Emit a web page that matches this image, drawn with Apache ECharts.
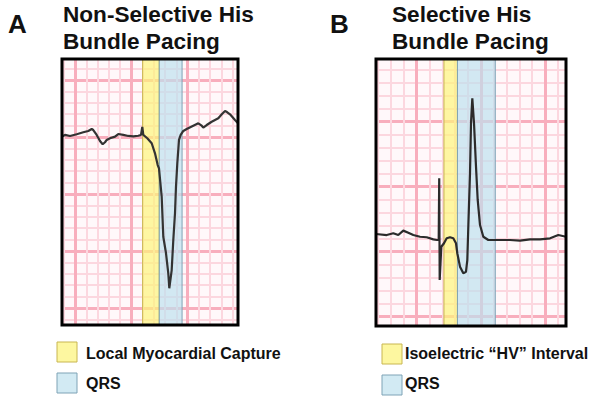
<!DOCTYPE html>
<html><head><meta charset="utf-8">
<script src="https://cdn.jsdelivr.net/npm/echarts@6/dist/echarts.min.js"></script>
<style>html,body{margin:0;padding:0;background:#fff}#c{width:602px;height:407px}</style>
</head><body><div id="c"></div>
<script>
// Panel A: Non-selective His bundle pacing (time in ms, amplitude in mm; 1 small box = 40 ms / 1 mm)
const timeA = [154,164.5,182.3,206,229.5,247.2,259.3,264.9,277,288.7,298.3,306.5,312.5,324.2,342,353.7,371.4,389.2,406.9,424.7,434.2,438.8,442.4,456.6,472.2,483.9,493.5,498.1,507.7,513.4,523,531.1,534.7,543.2,548.9,554.9,558.4,563.1,569.1,575.1,584.4,596.4,619.8,637.6,649.7,655.3,667.4,685.1,708.6,721.7,732.4,739.4,750.1,767.8,778.5];
const ampA = [0.04,0.18,0.09,0.24,0.41,0.53,0.70,0.61,0.18,-0.35,-0.64,-0.46,-0.26,-0.11,0.03,0.26,0.18,0.09,0.06,0.11,0.18,0.88,0.18,-0.11,-0.55,-1.43,-2.46,-2.75,-5.24,-8.75,-10.2,-11.96,-13.27,-11.67,-9.04,-6.69,-4.36,-2.31,-0.26,0.18,0.53,0.70,0.99,1.20,0.99,0.82,1.05,1.34,1.64,2.02,2.28,2.19,1.99,1.49,1.20];
const bandA_capture = [440, 499];
const bandA_qrs = [499, 580];
const rangeA_x = [153.9, 778.5];
const rangeA_y = [-16.49, 6.84];

// Panel B: Selective His bundle pacing
const timeB = [73.1,106.5,127,142.6,158.2,173.8,189.4,210.3,231.2,251.8,263.3,268.6,270.2,271.7,276.7,285.1,293.5,303.8,314.1,322.5,326.6,335,345.3,353.7,357.8,360.9,366.2,369.3,373.4,378.7,384.9,390.2,397.4,407.7,423.3,444.1,470,490.9,522.1,553.3,584.5,615.9,641.5,665.5];
const ampB = [1.36,1.28,1.42,1.28,1.62,1.46,1.28,1.15,1.11,0.95,0.90,0.90,5.65,-2.18,0.38,0.65,1.03,1.11,1.03,0.65,-0.12,-1.15,-1.66,-1.54,-0.64,1.92,6.03,9.88,11.8,9.88,6.54,3.98,2.05,1.15,0.90,0.90,0.90,0.90,0.85,0.95,0.95,1.03,1.28,1.15];
const bandB_hv = [285, 327];
const bandB_qrs = [327, 445];
const rangeB_x = [73.1, 665.5];
const rangeB_y = [-5.715, 14.82];

const titlesA = ['Non-Selective His', 'Bundle Pacing'];
const titlesB = ['Selective His', 'Bundle Pacing'];
const legendA = ['Local Myocardial Capture', 'QRS'];
const legendB = ['Isoelectric \u201cHV\u201d Interval', 'QRS'];

const MAJOR = '#f8aebd', MINOR = '#fcd7df';
const YELLOW = 'rgba(253,244,120,0.68)', YELLOW_B = '#c8b650';
const BLUE = 'rgba(188,224,238,0.68)', BLUE_B = '#7fa3b6';

function axisDef(gridIndex, range, major) {
  return {
    type: 'value', gridIndex, min: range[0], max: range[1],
    minInterval: major, maxInterval: major, splitNumber: 3,
    axisLine: {show: false}, axisTick: {show: false}, axisLabel: {show: false},
    splitLine: {show: true, showMinLine: false, showMaxLine: false, lineStyle: {color: MAJOR, width: 3}},
    minorTick: {show: false, splitNumber: 5},
    minorSplitLine: {show: true, lineStyle: {color: MINOR, width: 2}}
  };
}
function zip(t, a) { return t.map((v, i) => [v, a[i]]); }
function bandSeries(idx, b1, b2) {
  return {
    type: 'line', xAxisIndex: idx, yAxisIndex: idx, data: [], z: 5, silent: true,
    markArea: {silent: true, data: [
      [{xAxis: b1[0], itemStyle: {color: YELLOW, borderColor: YELLOW_B, borderWidth: 1}}, {xAxis: b1[1]}],
      [{xAxis: b2[0], itemStyle: {color: BLUE, borderColor: BLUE_B, borderWidth: 1}}, {xAxis: b2[1]}]
    ]}
  };
}
const FONT = 'Liberation Sans, Arial, sans-serif';
function txt(x, y, s, size) {
  return {type: 'text', x, y, z: 20, style: {text: s, font: 'bold ' + size + 'px ' + FONT, fill: '#111', textVerticalAlign: 'middle'}};
}
function sq(x, y, fill, stroke) {
  return {type: 'rect', z: 20, shape: {x, y, width: 20, height: 20}, style: {fill, stroke, lineWidth: 1}};
}

const chart = echarts.init(document.getElementById('c'), null, {renderer: 'svg'});
chart.setOption({
  animation: false,
  backgroundColor: '#ffffff',
  grid: [
    {left: 62, top: 59, width: 176, height: 266, show: true, backgroundColor: '#fff8fa', borderWidth: 0},
    {left: 376, top: 59, width: 190, height: 267, show: true, backgroundColor: '#fff8fa', borderWidth: 0}
  ],
  xAxis: [axisDef(0, rangeA_x, 200), axisDef(1, rangeB_x, 200)],
  yAxis: [axisDef(0, rangeA_y, 5), axisDef(1, rangeB_y, 5)],
  series: [
    {type: 'line', xAxisIndex: 0, yAxisIndex: 0, data: zip(timeA, ampA), showSymbol: false, z: 3,
      lineStyle: {color: '#333', width: 2.2}},
    bandSeries(0, bandA_capture, bandA_qrs),
    {type: 'line', xAxisIndex: 1, yAxisIndex: 1, data: zip(timeB, ampB), showSymbol: false, z: 3,
      lineStyle: {color: '#2b2b2b', width: 2.2}},
    bandSeries(1, bandB_hv, bandB_qrs)
  ],
  graphic: [
    {type: 'rect', z: 15, shape: {x: 62, y: 59, width: 176, height: 266}, style: {fill: 'none', stroke: '#000', lineWidth: 3}},
    {type: 'rect', z: 15, shape: {x: 376, y: 59, width: 190, height: 267}, style: {fill: 'none', stroke: '#000', lineWidth: 3}},
    txt(8, 24, 'A', 26),
    txt(330, 24, 'B', 26),
    txt(63, 14, titlesA[0], 22.6),
    txt(63, 41, titlesA[1], 22.6),
    txt(392, 14, titlesB[0], 22.6),
    txt(392, 41, titlesB[1], 22.6),
    sq(57, 342, 'rgba(253,246,150,0.9)', YELLOW_B),
    sq(57, 373, 'rgba(205,232,242,0.9)', BLUE_B),
    txt(86, 353, legendA[0], 16),
    txt(86, 383, legendA[1], 16),
    sq(382, 344, 'rgba(253,246,150,0.9)', YELLOW_B),
    sq(382, 375, 'rgba(205,232,242,0.9)', BLUE_B),
    txt(405, 353, legendB[0], 16),
    txt(405, 383, legendB[1], 16)
  ]
});
</script></body></html>
